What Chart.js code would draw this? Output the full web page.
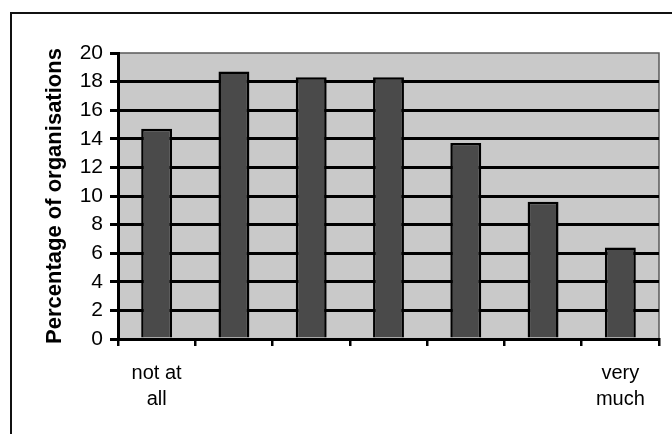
<!DOCTYPE html>
<html>
<head>
<meta charset="utf-8">
<script src="https://cdn.jsdelivr.net/npm/chart.js@4"></script>
<style>
  html, body { margin: 0; padding: 0; background: #fff; }
  #wrap { width: 672px; height: 434px; }
</style>
</head>
<body>
<div id="wrap"><canvas id="orgChart" width="672" height="434"></canvas></div>
<script>
// scale points 1..7, only the two ends are labelled
var categories = [['not at', 'all'], '', '', '', '', '', ['very', 'much']];
var percentages = [14.7, 18.7, 18.3, 18.3, 13.7, 9.6, 6.4];
var yTicks = [0, 2, 4, 6, 8, 10, 12, 14, 16, 18, 20];

var FONT = "'Liberation Sans', Arial, sans-serif";

// white page, black frame and grey plot background
var backdrop = {
  id: 'backdrop',
  beforeDraw: function (chart) {
    var ctx = chart.ctx;
    var a = chart.chartArea;
    ctx.save();
    ctx.fillStyle = '#fff';
    ctx.fillRect(0, 0, chart.width, chart.height);

    ctx.strokeStyle = '#111';
    ctx.lineWidth = 2;
    ctx.beginPath();
    ctx.moveTo(11, chart.height);
    ctx.lineTo(11, 13);
    ctx.lineTo(chart.width, 13);
    ctx.stroke();

    ctx.fillStyle = '#c9c9c9';
    ctx.fillRect(a.left, a.top, a.right - a.left, a.bottom - a.top);
    ctx.strokeStyle = '#5a5a5a';
    ctx.lineWidth = 1.5;
    ctx.beginPath();
    ctx.moveTo(a.left, a.top);
    ctx.lineTo(a.right, a.top);
    ctx.lineTo(a.right, a.bottom);
    ctx.stroke();
    ctx.restore();
  }
};

new Chart(document.getElementById('orgChart'), {
  type: 'bar',
  data: {
    labels: categories,
    datasets: [{
      data: percentages,
      backgroundColor: '#4a4a4a',
      borderColor: '#000',
      borderWidth: 2.5,
      barPercentage: 0.4,
      categoryPercentage: 1
    }]
  },
  options: {
    responsive: false,
    animation: false,
    layout: { padding: { left: 0, right: 13, top: 53, bottom: 0 } },
    plugins: {
      legend: { display: false },
      tooltip: { enabled: false }
    },
    scales: {
      x: {
        offset: true,
        border: { color: '#000', width: 3 },
        grid: {
          offset: true,
          drawOnChartArea: false,
          drawTicks: true,
          tickLength: 7,
          tickColor: '#000',
          lineWidth: 2.5
        },
        ticks: {
          color: '#000',
          padding: 14,
          maxRotation: 0,
          autoSkip: false,
          font: { family: FONT, size: 20, lineHeight: 1.3 }
        },
        afterFit: function (scale) { scale.height = 95; }
      },
      y: {
        min: 0,
        max: 20,
        border: { color: '#000', width: 3 },
        grid: {
          color: function (c) { return c.tick && c.tick.value === 20 ? 'rgba(0,0,0,0)' : '#000'; },
          tickColor: '#000',
          lineWidth: 3,
          tickLength: 8
        },
        afterBuildTicks: function (scale) {
          scale.ticks = yTicks.map(function (v) { return { value: v }; });
        },
        ticks: {
          color: '#000',
          padding: 7,
          font: { family: FONT, size: 21 }
        },
        title: {
          display: true,
          text: 'Percentage of organisations',
          color: '#000',
          padding: { top: 42, bottom: 0 },
          font: { family: FONT, size: 22, weight: 'bold' }
        },
        afterFit: function (scale) { scale.width = 118; }
      }
    }
  },
  plugins: [backdrop]
});
</script>
</body>
</html>
